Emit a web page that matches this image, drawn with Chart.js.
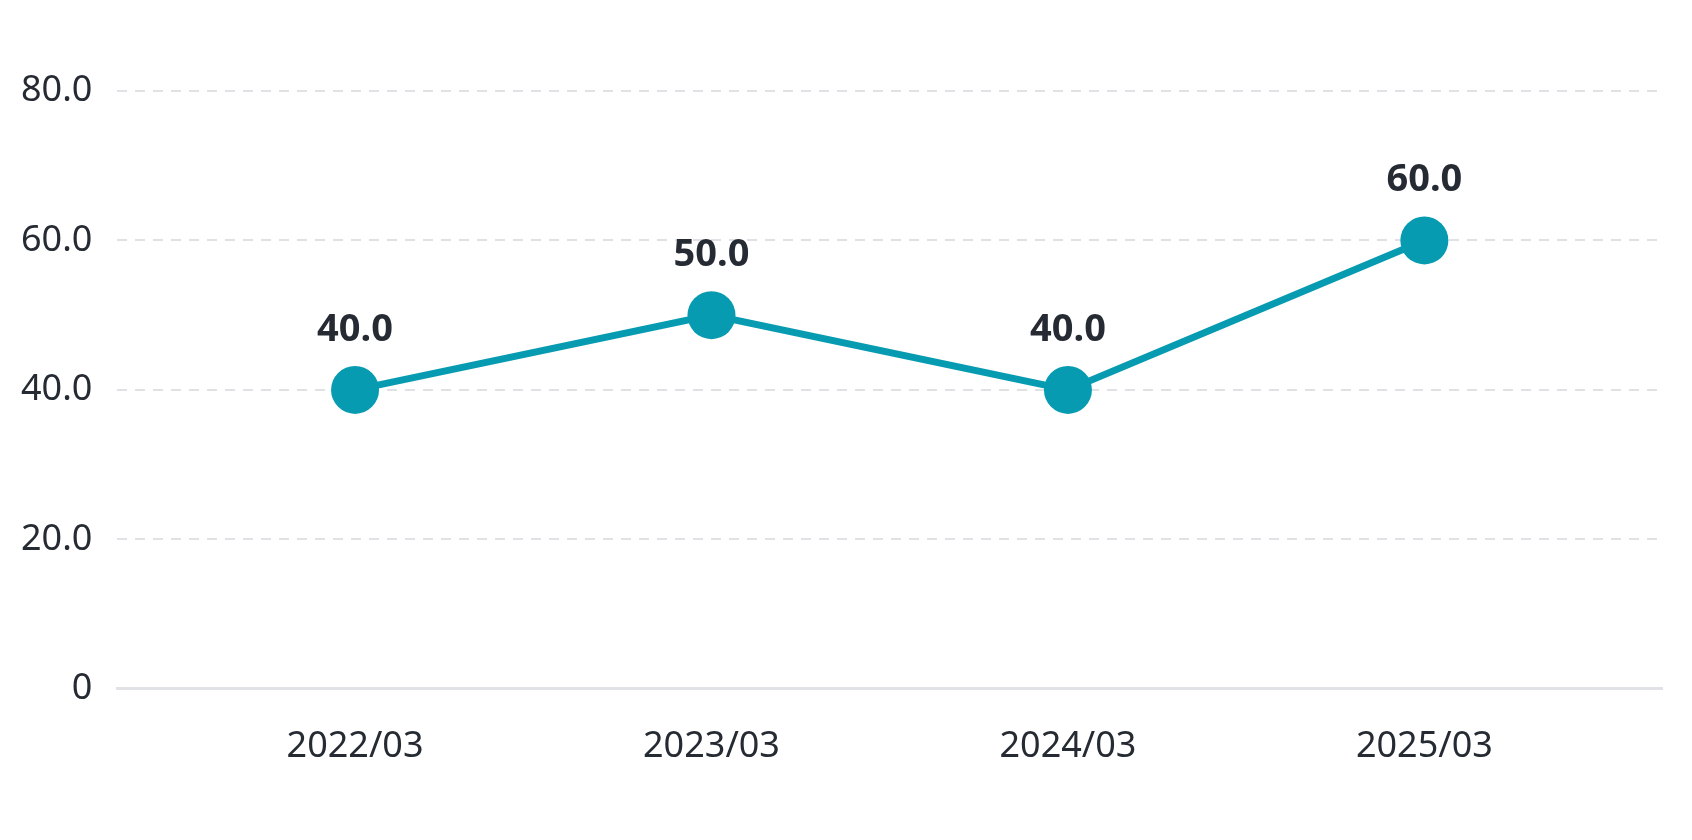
<!DOCTYPE html>
<html>
<head>
<meta charset="utf-8">
<script src="https://cdn.jsdelivr.net/npm/chart.js@4/dist/chart.umd.min.js"></script>
<style>
  html, body { margin: 0; padding: 0; background: #fff; }
  #wrap { width: 1692px; height: 840px; }
</style>
</head>
<body>
<div id="wrap"><canvas id="myLineChart"></canvas></div>
<script>
var categories = ['2022/03', '2023/03', '2024/03', '2025/03'];
var values = [40.0, 50.0, 40.0, 60.0];
var yTicks = [0, 20, 40, 60, 80];

var teal = '#069bb0';
var textColor = '#262b33';

// draws the value above each point
var valueLabels = {
    id: 'valueLabels',
    afterDatasetsDraw: function (chart) {
        var ctx = chart.ctx;
        var meta = chart.getDatasetMeta(0);
        ctx.save();
        ctx.font = 'bold 38px "Noto Sans"';
        ctx.fillStyle = textColor;
        ctx.textAlign = 'center';
        ctx.textBaseline = 'middle';
        meta.data.forEach(function (pt, i) {
            ctx.fillText(values[i].toFixed(1), pt.x, pt.y - 60);
        });
        ctx.restore();
    }
};

function makeChart() {
    var points = values.map(function (v, i) { return { x: i, y: v }; });

    var graphData = {
        datasets: [{
            data: points,
            borderColor: teal,
            backgroundColor: teal,
            borderWidth: 7,
            pointRadius: 24,
            pointHoverRadius: 24,
            pointBackgroundColor: teal,
            pointBorderWidth: 0,
            tension: 0,
            clip: false
        }]
    };

    var ctx = document.getElementById('myLineChart').getContext('2d');
    new Chart(ctx, {
        type: 'line',
        data: graphData,
        options: {
            responsive: true,
            maintainAspectRatio: false,
            animation: false,
            layout: { padding: { top: 91, right: 30, bottom: 36, left: -4 } },
            plugins: { legend: { display: false }, tooltip: { enabled: false } },
            scales: {
                x: {
                    type: 'linear',
                    min: -2 / 3,
                    max: categories.length - 1 + 2 / 3,
                    afterBuildTicks: function (axis) {
                        axis.ticks = categories.map(function (c, i) { return { value: i }; });
                    },
                    grid: { display: false, drawTicks: false },
                    border: { display: true, color: '#e0e2e6', width: 3 },
                    ticks: {
                        padding: 36,
                        color: textColor,
                        font: { family: 'Noto Sans', size: 36 },
                        callback: function (v) { return categories[v]; }
                    }
                },
                y: {
                    min: 0,
                    max: 80,
                    afterBuildTicks: function (axis) {
                        axis.ticks = yTicks.map(function (v) { return { value: v }; });
                    },
                    grid: {
                        drawTicks: false,
                        lineWidth: 2,
                        color: function (c) { return c.tick && c.tick.value === 0 ? 'rgba(0,0,0,0)' : '#dfe1e5'; }
                    },
                    border: { display: false, dash: [10, 8] },
                    ticks: {
                        padding: 25,
                        color: textColor,
                        font: { family: 'Noto Sans', size: 36 },
                        callback: function (v) { return v === 0 ? '0' : v.toFixed(1); }
                    }
                }
            }
        },
        plugins: [valueLabels]
    });
}

makeChart();
</script>
</body>
</html>
